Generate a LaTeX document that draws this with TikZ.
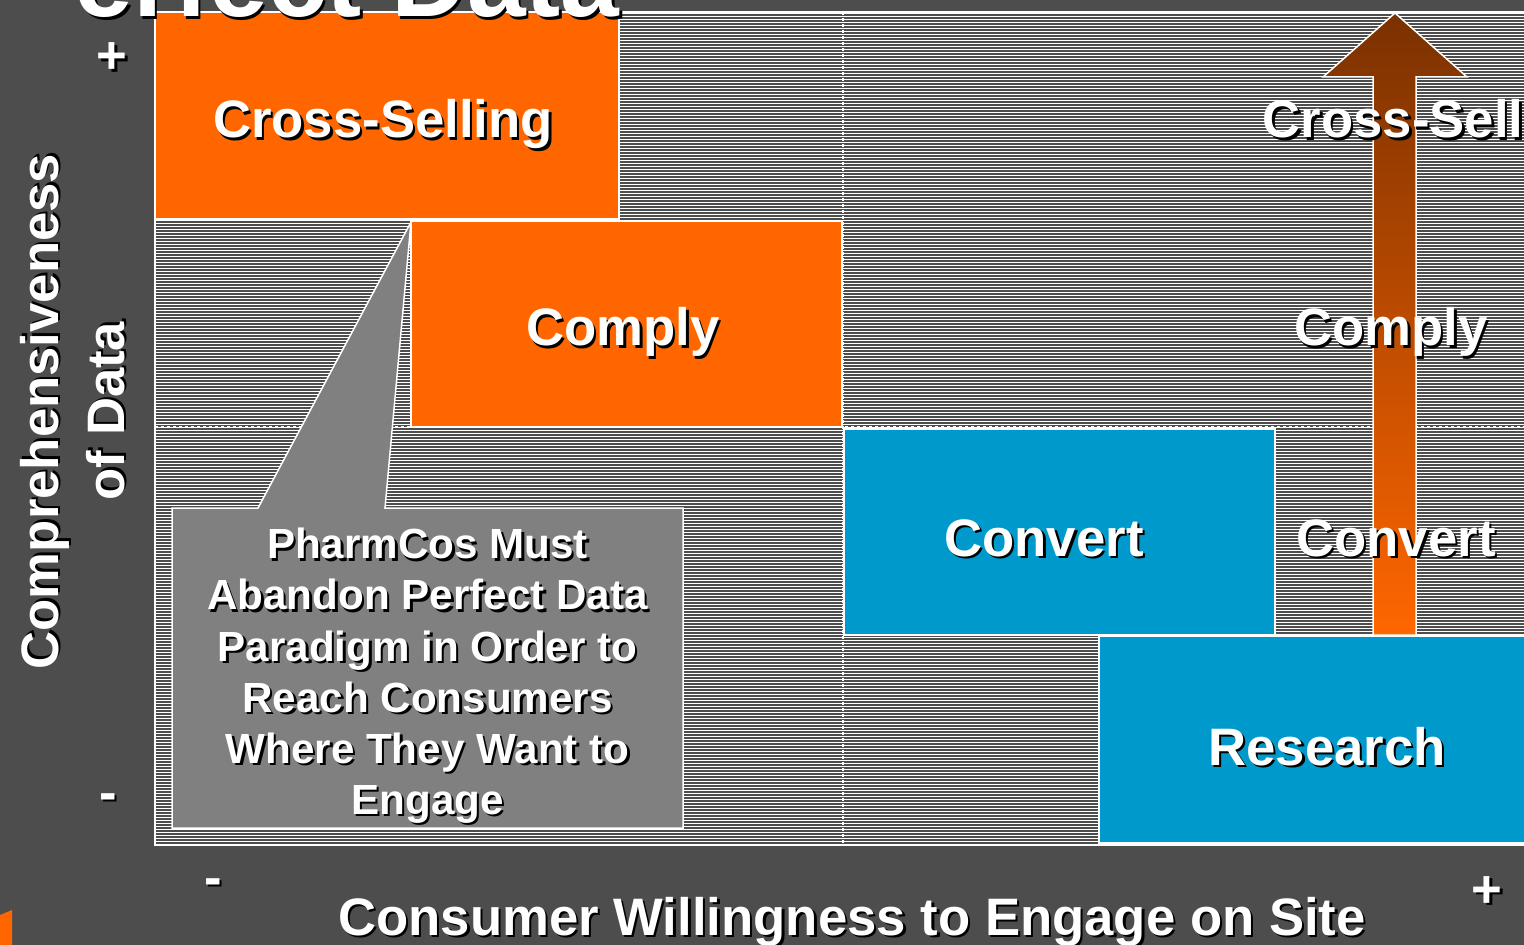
\documentclass[tikz,border=0pt]{standalone}
\usepackage{fontspec}
\setmainfont{Liberation Sans}
\definecolor{slate}{HTML}{4D4D4D}
\definecolor{boxorange}{HTML}{FF6600}
\definecolor{boxblue}{HTML}{0099CC}
\definecolor{calloutgray}{HTML}{808080}
\definecolor{arrowtop}{HTML}{7A3100}
% white text with a black drop shadow
\newcommand{\shd}[1]{\makebox[0pt][l]{\hspace{1.4pt}\raisebox{-1.4pt}{\textcolor{black}{#1}}}#1}
\tikzset{
  zone/.style={draw=white, line width=0.03cm, inner sep=0pt},
  lbl/.style={text=white, inner sep=0pt, anchor=base, font=\fontsize{30}{36}\selectfont\bfseries},
  gridline/.style={white, line width=0.04cm, dash pattern=on 0.06cm off 0.06cm}
}
\begin{document}
\begin{tikzpicture}[x=0.02cm, y=-0.02cm]
    \useasboundingbox (0,0) rectangle (1524,945);
    \clip (0,0) rectangle (1524,945);
    % Background
    \fill[slate] (0,0) rectangle (1524,945);
    \fill[boxorange] (0,915) -- (12,910) -- (12,945) -- (0,945) -- cycle;

    % Hatched plot area
    \fill[slate] (155,12) rectangle (1524,845);
    \foreach \k in {0,...,277}
        \draw[white, line width=0.017cm] (155,{13.5+3*\k}) -- (1524,{13.5+3*\k});
    \draw[white, line width=0.04cm] (1524,12) -- (155,12) -- (155,845) -- (1524,845);

    % Quadrant lines
    \draw[gridline] (843,12) -- (843,845);
    \draw[gridline] (155,427) -- (1524,427);

    % Boxes
    \node[zone, fill=boxorange, minimum width=9.28cm, minimum height=4.14cm] (xsellbox) at (387,115.5) {};
    \node[zone, fill=boxorange, minimum width=8.62cm, minimum height=4.12cm] (complybox) at (626.5,324) {};
    \node[zone, fill=boxblue, minimum width=8.62cm, minimum height=4.12cm] (convertbox) at (1059.5,532) {};
    \node[zone, fill=boxblue, minimum width=9.12cm, minimum height=4.14cm] (researchbox) at (1327,739.5) {};

    % Callout
    \filldraw[fill=calloutgray, draw=white, line width=0.03cm]
        (172,508) -- (258,508) -- (411,222) -- (385,508) -- (683,508)
        -- (683,828) -- (172,828) -- cycle;
    \node[text=white, inner sep=0pt, align=center, font=\fontsize{24}{29.1}\selectfont\bfseries] (callout) at (427.5,677)
        {\shd{PharmCos Must}\\\shd{Abandon Perfect Data}\\\shd{Paradigm in Order to}\\
         \shd{Reach Consumers}\\\shd{Where They Want to}\\\shd{Engage}};

    % Progression arrow
    \draw[white, line width=0.03cm, top color=arrowtop, bottom color=boxorange]
        (1373,635) -- (1373,77) -- (1323,77) -- (1395,13) -- (1467,77)
        -- (1416,77) -- (1416,635) -- cycle;

    % Box labels
    \node[lbl] (xselllbl) at (383,138) {\shd{Cross-Selling}};
    \node[lbl] (complylbl) at (623,346) {\shd{Comply}};
    \node[lbl] (convertlbl) at (1044,556) {\shd{Convert}};
    \node[lbl] (researchlbl) at (1327,765) {\shd{Research}};

    % Arrow labels
    \node[lbl] (stepxsell) at (1393,138) {\shd{Cross-Sell}};
    \node[lbl] (stepcomply) at (1391,346) {\shd{Comply}};
    \node[lbl] (stepconvert) at (1396,556) {\shd{Convert}};

    % Axes
    \node[lbl, rotate=90] (ylbl) at (58,411.5) {\shd{Comprehensiveness}};
    \node[lbl, rotate=90] (ylbltwo) at (124,411) {\shd{of Data}};
    \node[lbl] (yplus) at (112,74) {\shd{+}};
    \node[lbl] (yminus) at (108,810) {\shd{-}};
    \node[lbl] (xminus) at (213,895) {\shd{-}};
    \node[lbl] (xplus) at (1487,907) {\shd{+}};
    \node[lbl] (xlbl) at (852,935) {\shd{Consumer Willingness to Engage on Site}};

    % Title (cut off at top)
    \node[text=white, inner sep=0pt, anchor=base east, font=\fontsize{60}{70}\selectfont\bfseries] (title) at (620,17) {\shd{erfect Data}};
\end{tikzpicture}
\end{document}
